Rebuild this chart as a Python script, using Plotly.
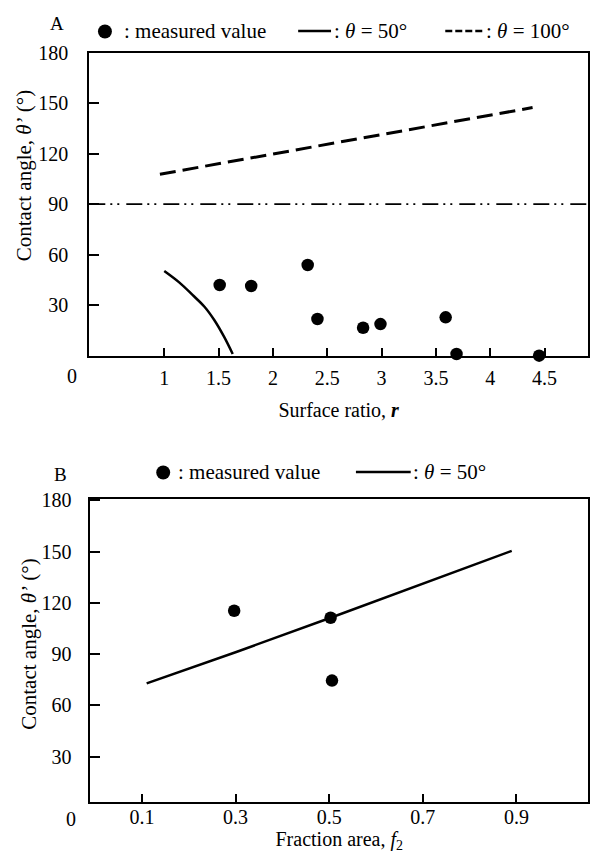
import plotly.graph_objects as go

# ---------------- data ----------------
# Panel A: contact angle vs surface ratio r
a_meas_r = [1.51, 1.80, 2.32, 2.41, 2.83, 2.99, 3.59, 3.69, 4.45]
a_meas_theta = [42.0, 41.4, 53.9, 21.8, 16.6, 18.8, 22.8, 1.0, 0.0]

a_t50_r = [1.00, 1.14, 1.26, 1.37, 1.46, 1.55, 1.63]
a_t50_theta = [50.3, 43.4, 36.1, 29.1, 21.2, 11.3, 1.0]

a_t100_r = [0.96, 2.64, 4.39]
a_t100_theta = [107.8, 127.2, 147.4]

a_ref_r = [0.31, 4.90]
a_ref_theta = [90.0, 90.0]

a_xticks = [1, 1.5, 2, 2.5, 3, 3.5, 4, 4.5]
a_yticks = [30, 60, 90, 120, 150, 180]

# Panel B: contact angle vs fraction area f2
b_meas_f2 = [0.297, 0.503, 0.506]
b_meas_theta = [115.4, 111.3, 74.5]

b_t50_f2 = [0.110, 0.303, 0.503, 0.890]
b_t50_theta = [72.9, 91.4, 111.3, 150.4]

b_xticks = [0.1, 0.3, 0.5, 0.7, 0.9]
b_yticks = [30, 60, 90, 120, 150, 180]

y_title = "Contact angle, <i>θ’</i> (°)"

# ---------------- layout helpers ----------------
W, H = 591, 853
ML, MR, MT, MB = 89, 1, 52, 51
PW, PH = W - ML - MR, H - MT - MB
FONT = "Liberation Serif"


def px(x):
    return (x - ML) / PW


def py(y):
    return 1 - (y - MT) / PH


fig = go.Figure()

# Panel A traces
fig.add_trace(go.Scatter(x=a_ref_r, y=a_ref_theta, mode="lines",
                         line=dict(color="black", width=1.8,
                                   dash="16px,5px,2px,5px,2px,7px"),
                         xaxis="x", yaxis="y", showlegend=False))
fig.add_trace(go.Scatter(x=a_t100_r, y=a_t100_theta, mode="lines",
                         line=dict(color="black", width=3, dash="16px,7px"),
                         xaxis="x", yaxis="y", showlegend=False))
fig.add_trace(go.Scatter(x=a_t50_r, y=a_t50_theta, mode="lines",
                         line=dict(color="black", width=2.5, shape="spline"),
                         xaxis="x", yaxis="y", showlegend=False))
fig.add_trace(go.Scatter(x=a_meas_r, y=a_meas_theta, mode="markers",
                         marker=dict(color="black", size=12.5),
                         cliponaxis=False,
                         xaxis="x", yaxis="y", showlegend=False))

# Panel B traces
fig.add_trace(go.Scatter(x=b_t50_f2, y=b_t50_theta, mode="lines",
                         line=dict(color="black", width=2.5),
                         xaxis="x2", yaxis="y2", showlegend=False))
fig.add_trace(go.Scatter(x=b_meas_f2, y=b_meas_theta, mode="markers",
                         marker=dict(color="black", size=12.5),
                         cliponaxis=False,
                         xaxis="x2", yaxis="y2", showlegend=False))

tickfont = dict(family=FONT, size=20, color="black")
titlefont = dict(family=FONT, size=20, color="black")

common_ax = dict(showline=True, linecolor="black", linewidth=2, mirror=True,
                 ticks="inside", tickcolor="black", tickwidth=2,
                 showgrid=False, zeroline=False, tickfont=tickfont)

fig.update_layout(
    width=W, height=H, autosize=False,
    margin=dict(l=ML, r=MR, t=MT, b=MB),
    plot_bgcolor="white", paper_bgcolor="white",
    font=dict(family=FONT, size=19, color="black"),
    xaxis=dict(domain=[px(89.3), 1], anchor="y", range=[0.31, 4.9],
               tickvals=a_xticks, ticktext=[str(v) for v in a_xticks],
               ticklen=8, ticklabelstandoff=3,
               title=dict(text="Surface ratio, <b><i>r</i></b>", font=titlefont,
                          standoff=15),
               **common_ax),
    yaxis=dict(domain=[py(355.7), py(52.7)], anchor="x", range=[0, 180],
               tickvals=a_yticks, ticklen=10, ticklabelstandoff=15,
               **common_ax),
    xaxis2=dict(domain=[px(90.5), 1], anchor="y2", range=[-0.01, 1.053],
                tickvals=b_xticks, ticktext=[str(v) for v in b_xticks],
                ticklen=8, ticklabelstandoff=-4,
                title=dict(text="Fraction area, <i>f</i><sub>2</sub>", font=titlefont,
                           standoff=6),
                **common_ax),
    yaxis2=dict(domain=[py(802), py(499.3)], anchor="x2", range=[3.45, 180.6],
                tickvals=b_yticks, ticklen=10, ticklabelstandoff=13,
                **common_ax),
)

# annotations (axis titles, panel letters, origin labels, legend texts)
ann = []


def add_text(text, x, y, xanchor="center", size=19, angle=0):
    ann.append(dict(text=text, x=px(x), y=py(y), xref="paper", yref="paper",
                    xanchor=xanchor, yanchor="middle", showarrow=False,
                    textangle=angle,
                    font=dict(family=FONT, size=size, color="black")))


add_text(y_title, 24, 175, size=21, angle=-90)
add_text(y_title, 28, 643.5, size=21, angle=-90)

add_text("A", 57, 24)
add_text("0", 72, 376, size=20)
add_text(": measured value", 122, 31, "left", 21)
add_text(": <i>θ</i> = 50°", 333, 31, "left", 21)
add_text(": <i>θ</i> = 100°", 486, 31, "left", 21)

add_text("B", 60, 475)
add_text("0", 70.5, 819, size=20)
add_text(": measured value", 176, 472, "left", 21)
add_text(": <i>θ</i> = 50°", 412, 472, "left", 21)

fig.update_layout(annotations=ann)

# legend keys
shapes = []


def dot(cx, cy, r=7):
    shapes.append(dict(type="circle", xref="paper", yref="paper",
                       x0=px(cx - r), x1=px(cx + r), y0=py(cy + r), y1=py(cy - r),
                       fillcolor="black", line=dict(color="black", width=0)))


def key_line(x0, x1, y, dash="solid", width=2.5):
    shapes.append(dict(type="line", xref="paper", yref="paper",
                       x0=px(x0), x1=px(x1), y0=py(y), y1=py(y),
                       line=dict(color="black", width=width, dash=dash)))


dot(105, 31.5)
key_line(299, 332, 31)
key_line(446.7, 486, 31, dash="7px,3px")
dot(163.5, 472.5)
key_line(357, 412, 472)

fig.update_layout(shapes=shapes)

fig.write_html("out.html",
               config={"displayModeBar": False},
               post_script="document.body.style.margin='0';"
                           "document.body.style.overflow='hidden';")
